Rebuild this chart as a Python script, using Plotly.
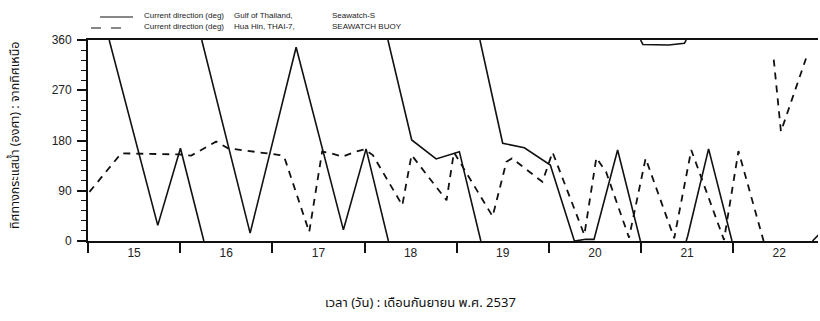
import plotly.graph_objects as go

# ---------------- data ----------------
day_labels = ["15", "16", "17", "18", "19", "20", "21", "22"]
day_starts = [15, 16, 17, 18, 19, 20, 21, 22]
y_ticks = [0, 90, 180, 270, 360]

# Solid: Gulf of Thailand (None = pen lifted where the direction wraps 0/360 or data missing)
gulf_day = [15.23, 15.757, 16.003, 16.257, None,
            16.234, 16.759, 17.258, 17.771, 18.017, 18.259, None,
            18.254, 18.512, 18.777, 19.029, 19.262, None,
            19.252, 19.499, 19.734, 20.016, 20.277, 20.40, 20.49, 20.746, 20.993, None,
            20.995, 21.02, 21.30, 21.47, 21.49, None,
            21.49, 21.505, 21.733, 21.987, None,
            22.86, 22.95]
gulf_deg = [360, 28, 166, 0, None,
            360, 14, 347, 20, 165, 0, None,
            360, 181, 147, 160, 0, None,
            360, 175, 167, 136, 0, 3, 3, 163, 0, None,
            360, 352, 351, 354, 360, None,
            0, 8, 165, 0, None,
            0, 15]

# Dashed: Hua Hin, THAI-7
hua_day = [15.016, 15.36, 15.99, 16.12, 16.39, 16.52, 17.08, 17.13, 17.40, 17.54,
           17.64, 17.76, 17.90, 18.00, 18.09, 18.41, 18.51, 18.89, 18.97, 19.39,
           19.54, 19.60, 19.93, 20.04, 20.385, 20.515, 20.62, 20.87, 21.05, 21.36,
           21.545, 21.90, 22.057, 22.33, None,
           22.44, 22.518, 22.79]
hua_deg = [88, 157, 155, 153, 178, 166, 154, 150, 16, 160,
           157, 151, 160, 164, 154, 64, 154, 73, 159, 44,
           142, 148, 106, 159, 11, 149, 124, 6, 148, 5,
           163, 2, 161, 0, None,
           325, 196, 327]

legend_param = ["Current direction (deg)", "Current direction (deg)"]
legend_site = ["Gulf of Thailand,", "Hua Hin, THAI-7,"]
legend_station = ["Seawatch-S", "SEAWATCH BUOY"]

y_title = "ทิศทางกระแสน้ำ (องศา) : จากทิศเหนือ"
x_title = "เวลา (วัน) : เดือนกันยายน พ.ศ. 2537"

# ---------------- layout geometry ----------------
W, H = 820, 321
ML, MR, MT, MB = 88, 2, 40, 80
PW, PH = W - ML - MR, H - MT - MB


def px_x(px):
    return (px - ML) / PW


def px_y(py):
    return (H - MB - py) / PH


TXT = "Liberation Sans Narrow, Liberation Sans, Arial, sans-serif"
THAI = "Noto Sans Thai, Noto Sans Thai Looped, Loma, Garuda, Tlwg Typo, DejaVu Sans, sans-serif"

fig = go.Figure()
fig.add_trace(go.Scatter(x=gulf_day, y=gulf_deg, mode="lines", connectgaps=False,
                         line=dict(color="#111", width=1.6), name=legend_site[0],
                         showlegend=False, hoverinfo="skip"))
fig.add_trace(go.Scatter(x=hua_day, y=hua_deg, mode="lines", connectgaps=False,
                         line=dict(color="#111", width=1.8, dash="7px,6px"), name=legend_site[1],
                         showlegend=False, hoverinfo="skip"))

# manual legend (two rows at the top)
shapes = [
    dict(type="line", xref="paper", yref="paper", x0=px_x(100), x1=px_x(133),
         y0=px_y(17), y1=px_y(17), line=dict(color="#111", width=1.2)),
    dict(type="line", xref="paper", yref="paper", x0=px_x(91), x1=px_x(122),
         y0=px_y(28), y1=px_y(28), line=dict(color="#111", width=1.2, dash="10px,10px")),
]
annotations = []
row_y = [15, 26]
for i in range(2):
    for txt, px in ((legend_param[i], 142), (legend_site[i], 232), (legend_station[i], 330)):
        annotations.append(dict(text=txt, xref="paper", yref="paper", x=px_x(px), y=px_y(row_y[i]),
                                xanchor="left", yanchor="middle", showarrow=False,
                                font=dict(family=TXT, size=8, color="#222")))

annotations.append(dict(text=y_title, xref="paper", yref="paper", x=px_x(15), y=px_y(135),
                        xanchor="center", yanchor="middle", textangle=-90, showarrow=False,
                        font=dict(family=THAI, size=12.5, color="#111")))
annotations.append(dict(text=x_title, xref="paper", yref="paper", x=px_x(420), y=px_y(303),
                        xanchor="center", yanchor="middle", showarrow=False,
                        font=dict(family=THAI, size=13, color="#111")))

fig.update_layout(
    width=W, height=H,
    margin=dict(l=ML, r=MR, t=MT, b=MB, autoexpand=False),
    paper_bgcolor="white", plot_bgcolor="white",
    showlegend=False,
    shapes=shapes, annotations=annotations,
    xaxis=dict(range=[15, 22.92], showgrid=False, zeroline=False,
               showline=True, linecolor="#111", linewidth=2, mirror=True,
               tickmode="array", tickvals=[d + 0.5 for d in day_starts], ticktext=day_labels,
               ticks="outside", ticklen=0, tickfont=dict(family=TXT, size=12, color="#222"),
               ticklabelstandoff=0,
               minor=dict(tickmode="array", tickvals=day_starts, ticks="outside",
                          ticklen=10, tickwidth=1.5, tickcolor="#111", showgrid=False),
               fixedrange=True),
    yaxis=dict(range=[0, 360], showgrid=False, zeroline=False,
               showline=True, linecolor="#111", linewidth=1.8,
               tickmode="array", tickvals=y_ticks, ticktext=[str(v) for v in y_ticks],
               ticks="outside", ticklen=9, tickwidth=1.5, tickcolor="#111",
               tickfont=dict(family=TXT, size=12, color="#222"), ticklabelstandoff=3,
               minor=dict(tickmode="linear", tick0=0, dtick=18, ticks="outside",
                          ticklen=5, tickwidth=1.2, tickcolor="#111", showgrid=False),
               fixedrange=True),
)

fig.write_html("out.html")
